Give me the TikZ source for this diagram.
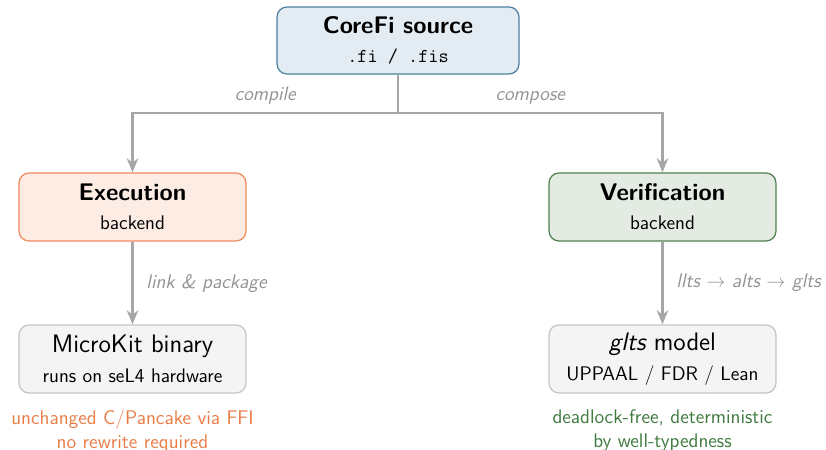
\documentclass[tikz,border=0pt]{standalone}
\usepackage{tikz}
\usetikzlibrary{arrows.meta,calc,positioning}
\renewcommand{\familydefault}{\sfdefault}

\definecolor{srcfill}{HTML}{E2ECF2}
\definecolor{srcline}{HTML}{4D7FA0}
\definecolor{exefill}{HTML}{FCECE4}
\definecolor{exeline}{HTML}{EF8B5C}
\definecolor{verfill}{HTML}{E3EBE3}
\definecolor{verline}{HTML}{4F8050}
\definecolor{outfill}{HTML}{F4F4F4}
\definecolor{outline}{HTML}{C4C4C4}
\definecolor{wire}{HTML}{A6A6A6}
\definecolor{exenote}{HTML}{E97C46}
\definecolor{vernote}{HTML}{3F7A3F}

\newcommand{\boxtitle}{\fontsize{13.7}{16}\selectfont\bfseries}
\newcommand{\outtitle}{\fontsize{14.4}{17}\selectfont}
\newcommand{\smalltext}{\fontsize{11.2}{13.6}\selectfont}

\tikzset{
  box/.style={draw, rounded corners=0.2cm, line width=0.7pt, align=center,
    minimum width=4.54cm, minimum height=1.36cm, inner sep=2pt, font=\smalltext},
  srcbox/.style={box, fill=srcfill, draw=srcline, minimum width=4.84cm, minimum height=1.34cm},
  exebox/.style={box, fill=exefill, draw=exeline},
  verbox/.style={box, fill=verfill, draw=verline},
  outbox/.style={box, fill=outfill, draw=outline},
  wire/.style={draw=wire, line width=1.25pt},
  flow/.style={wire, -{Stealth[length=8pt, width=6.5pt, inset=2.5pt]}},
  lbl/.style={text=gray!85, font=\smalltext\itshape},
  note/.style={align=center, font=\smalltext}
}

\begin{document}
\begin{tikzpicture}[x=0.02cm, y=-0.02cm]
\useasboundingbox (0,0) rectangle (826,450);

% source and the two backends
\node[srcbox] (src) at (398,40.5) {{\boxtitle CoreFi source}\\[3pt]\texttt{.fi / .fis}};
\node[exebox] (exec) at (132.5,207) {{\boxtitle Execution}\\[3pt]backend};
\node[verbox] (verif) at (662.5,207) {{\boxtitle Verification}\\[3pt]backend};

% what each backend produces
\node[outbox] (bin) at (132.5,359) {{\outtitle MicroKit binary}\\[3.5pt]runs on seL4 hardware};
\node[outbox] (model) at (662.5,359) {{\outtitle\itshape glts\upshape\ model}\\[3.5pt]UPPAAL / FDR / Lean};

\node[note, text=exenote, below=0.2cm of bin] (exenote) {unchanged C/Pancake via FFI\\no rewrite required};
\node[note, text=vernote, below=0.2cm of model] (vernote) {deadlock-free, deterministic\\by well-typedness};

% split point under the source
\coordinate (split) at (398,113);
\draw[wire] (src.south) -- (split);
\draw[flow] (split) -| node[pos=0.25, above, lbl, yshift=1pt] {compile} (exec.north);
\draw[flow] (split) -| node[pos=0.25, above, lbl, yshift=1pt] {compose} (verif.north);

\draw[flow] (exec) -- node[right, lbl, xshift=4pt] {link \& package} (bin);
\draw[flow] (verif) -- node[right, lbl, xshift=4pt] {llts $\rightarrow$ alts $\rightarrow$ glts} (model);
\end{tikzpicture}
\end{document}
